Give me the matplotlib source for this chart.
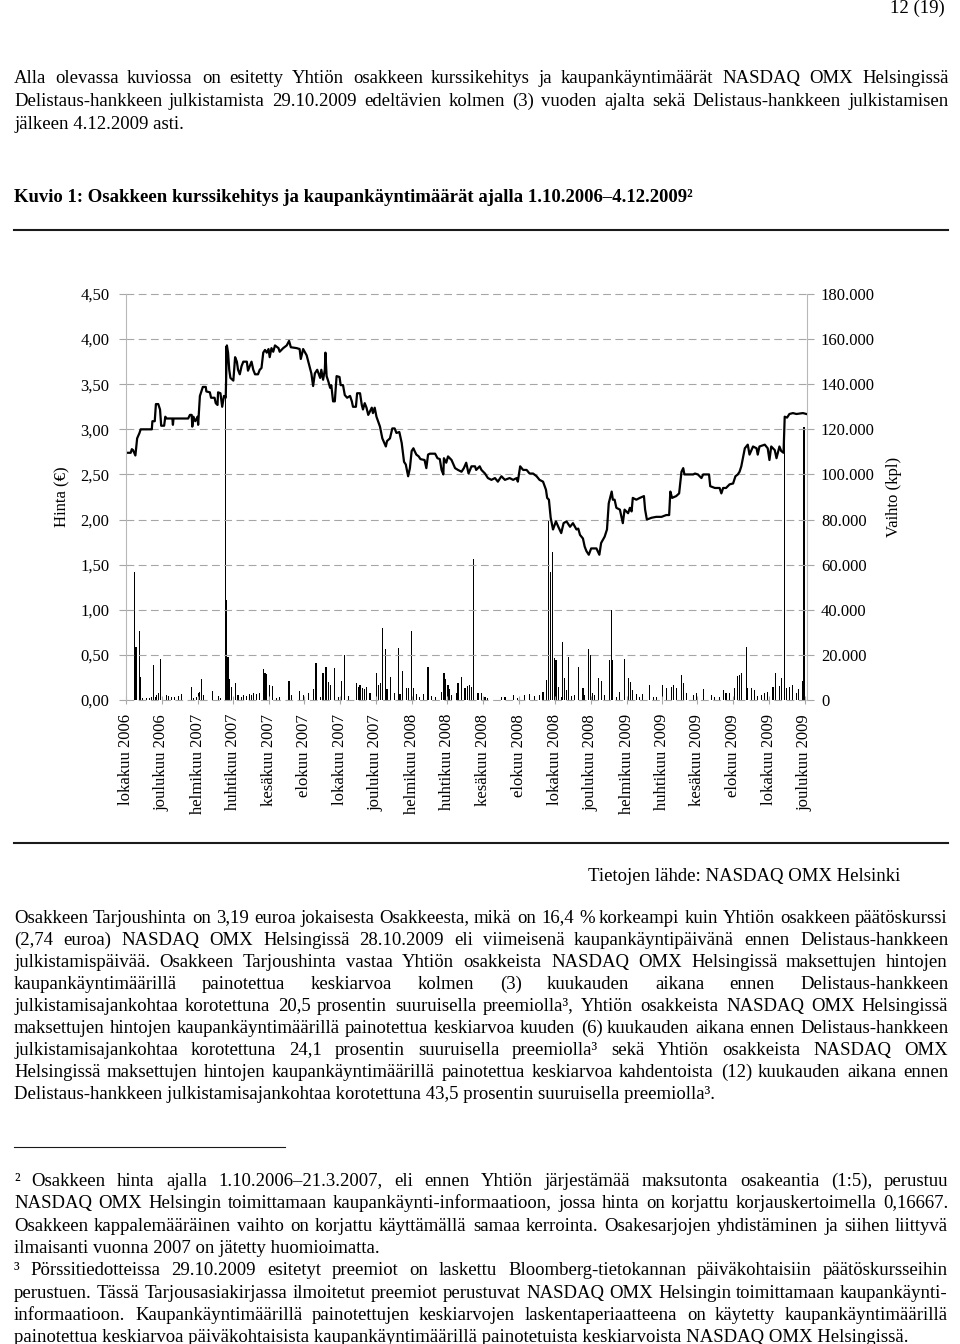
import numpy as np
import matplotlib
matplotlib.use("Agg")
import matplotlib.pyplot as plt
from matplotlib.lines import Line2D

plt.rcParams['font.family'] = ['Liberation Serif', 'DejaVu Serif']

# päivät laskettuna 1.10.2006 alkaen
start = np.datetime64('2006-10-01')

price_day = [0, 8, 10, 12, 16, 19, 23, 25, 44, 45, 49, 51, 55, 58, 60, 65, 67, 69, 79, 80,
             81, 106, 109, 112, 113, 115, 118, 120, 122, 123, 124, 126, 131, 136, 137, 143, 145, 151, 153, 156,
             157, 161, 164, 167, 170, 172, 174, 176, 178, 183, 186, 189, 191, 194, 197, 200, 206, 208, 211, 214,
             217, 220, 225, 228, 231, 234, 237, 240, 243, 245, 248, 251, 254, 260, 262, 268, 274, 278, 281, 291,
             296, 298, 302, 308, 312, 316, 319, 322, 326, 331, 333, 336, 339, 340, 342, 345, 348, 350, 353, 356,
             359, 364, 366, 370, 373, 377, 382, 385, 387, 392, 394, 399, 402, 404, 407, 410, 413, 419, 421, 424,
             427, 433, 437, 443, 445, 450, 454, 458, 461, 466, 470, 474, 477, 481, 484, 487, 490, 492, 495, 499,
             502, 509, 512, 515, 518, 527, 531, 535,
             538, 541, 542, 546, 549, 555, 561, 566, 572, 576, 580, 584, 589, 595, 597, 603, 606, 612, 617, 623,
             629, 634, 640, 646, 654, 660, 666, 668, 672, 677, 683, 688, 694, 700, 705, 711, 716, 718, 721, 724,
             728, 733, 737, 742, 746, 751, 757, 762, 768, 771, 774, 779, 782, 785, 789, 793, 802, 807, 810, 816,
             820, 823, 828, 830, 833, 836, 842, 845, 847, 850, 856, 859, 862, 864, 870, 876, 883, 885, 888, 896,
             904, 913, 921, 926, 928, 931, 938, 943, 947, 950, 952, 967, 970, 975, 981, 984, 994, 996, 1004, 1012,
             1015, 1018, 1023, 1029, 1035, 1039, 1043, 1046, 1049, 1055, 1060, 1063, 1069, 1075, 1077, 1080, 1089, 1094, 1097, 1100,
             1106, 1109, 1114, 1117, 1121, 1123, 1127, 1131, 1137, 1143, 1154, 1160]
price = [2.74, 2.74, 2.78, 2.77, 2.71, 2.90, 2.96, 3.00, 3.00, 3.09, 3.09, 3.28, 3.28, 3.22, 3.04, 3.04, 3.14, 3.12, 3.12, 3.05,
         3.12, 3.12, 3.16, 3.16, 3.03, 3.14, 3.09, 3.11, 3.14, 3.05, 3.16, 3.37, 3.47, 3.47, 3.42, 3.41, 3.35, 3.35, 3.29, 3.27,
         3.41, 3.40, 3.25, 3.37, 3.35, 3.93, 3.85, 3.66, 3.57, 3.54, 3.80, 3.75, 3.66, 3.61, 3.70, 3.75, 3.75, 3.65, 3.70, 3.75,
         3.66, 3.61, 3.61, 3.66, 3.68, 3.85, 3.88, 3.85, 3.89, 3.80, 3.90, 3.86, 3.93, 3.90, 3.86, 3.90, 3.93, 3.98, 3.91, 3.90,
         3.89, 3.78, 3.89, 3.82, 3.72, 3.62, 3.48, 3.62, 3.66, 3.57, 3.66, 3.55, 3.66, 3.85, 3.59, 3.53, 3.46, 3.49, 3.31, 3.31,
         3.59, 3.58, 3.49, 3.49, 3.38, 3.35, 3.37, 3.31, 3.25, 3.25, 3.40, 3.40, 3.27, 3.22, 3.29, 3.24, 3.16, 3.24, 3.18, 3.24,
         3.14, 3.03, 2.90, 2.81, 2.87, 2.90, 3.01, 3.01, 2.96, 2.97, 2.85, 2.64, 2.61, 2.48, 2.57, 2.76, 2.79, 2.76, 2.72, 2.70,
         2.67, 2.66, 2.57, 2.72, 2.73, 2.73, 2.68, 2.67,
         2.55, 2.50, 2.68, 2.63, 2.70, 2.66, 2.57, 2.55, 2.53, 2.57, 2.63, 2.51, 2.59, 2.59, 2.55, 2.59, 2.55, 2.51, 2.46, 2.44,
         2.46, 2.42, 2.48, 2.44, 2.46, 2.44, 2.46, 2.42, 2.59, 2.55, 2.55, 2.51, 2.51, 2.48, 2.44, 2.42, 2.33, 2.24, 2.22, 2.02,
         1.89, 1.98, 1.92, 1.85, 1.96, 1.98, 1.92, 1.96, 1.89, 1.90, 1.83, 1.79, 1.70, 1.65, 1.61, 1.68, 1.68, 1.61, 1.74, 1.81,
         1.89, 2.18, 2.31, 2.22, 2.22, 2.13, 2.11, 2.02, 1.96, 2.11, 2.07, 2.13, 2.09, 2.24, 2.22, 2.24, 2.26, 2.11, 2.00, 2.02,
         2.03, 2.03, 2.05, 2.05, 2.31, 2.24, 2.26, 2.29, 2.53, 2.57, 2.50, 2.50, 2.51, 2.50, 2.46, 2.50, 2.50, 2.37, 2.35, 2.35,
         2.29, 2.35, 2.35, 2.39, 2.40, 2.48, 2.50, 2.53, 2.59, 2.79, 2.83, 2.72, 2.81, 2.79, 2.72, 2.81, 2.83, 2.79, 2.66, 2.81,
         2.77, 2.68, 2.81, 2.76, 2.74, 3.14, 3.13, 3.17, 3.18, 3.17, 3.18, 3.17]

vol_day = [15, 17, 23, 25, 28, 35, 40, 44, 47, 50, 52, 55, 59, 69, 72, 78, 82, 89, 95, 112,
           115, 120, 123, 126, 129, 132, 148, 157, 161, 169, 172, 174, 177, 180, 186, 191, 197, 201, 206, 210,
           214, 218, 223, 227, 234, 237, 240, 245, 250, 257, 262, 278, 282, 296, 302, 311, 319, 324, 331, 336,
           341, 345, 349, 356, 362, 367, 373, 379, 393, 396, 399, 403, 407, 410, 416, 427, 430, 434, 437, 442,
           445, 451, 458, 464, 467, 471, 478, 481, 487, 490, 495, 501, 507, 515, 521, 527,
           538, 542, 545, 549, 552, 555, 563, 566, 572, 578, 582, 586, 589, 592, 600, 606, 612, 617, 640, 646,
           660, 668, 680, 688, 697, 705, 711, 717, 720, 721, 724, 727, 730, 733, 737, 742, 744, 747, 751, 754,
           759, 765, 772, 779, 782, 788, 792, 796, 799, 805, 810, 816, 824, 828, 830, 836, 842, 850, 856, 860,
           864, 870, 876, 881, 892, 899, 904, 914, 921, 930, 933, 938, 947, 950, 955, 967, 972, 984, 998, 1004,
           1012, 1018, 1023, 1029, 1038, 1043, 1046, 1049, 1058, 1060, 1066, 1072, 1077, 1083, 1089, 1094, 1103, 1108, 1114, 1118,
           1123, 1126, 1131, 1136, 1143, 1147, 1153, 1156]
vol = [56900, 23700, 30600, 10000, 700, 1000, 1000, 1500, 15500, 1200, 2200, 3200, 18000, 2200, 1800, 1500, 1500, 1800, 2700, 5900,
       1000, 1200, 3000, 3700, 9200, 2200, 4100, 1800, 700, 157000, 44400, 19200, 9200, 5900, 7700, 2200, 1500, 2200, 1800, 2700,
       2200, 3000, 2700, 3200, 13600, 11800, 11500, 6600, 6200, 1000, 1500, 8600, 2200, 4100, 2200, 3000, 4700, 16600, 1200, 11800,
       14800, 8100, 6600, 14000, 1500, 8600, 20000, 1800, 7400, 5900, 6600, 5200, 4700, 5900, 3000, 11800, 6600, 7400, 31800, 22500,
       4700, 10400, 3200, 22900, 2700, 12900, 5200, 5200, 30600, 5200, 2700, 1200, 2700, 14800, 1800, 1200,
       3700, 12100, 9200, 6600, 4700, 2200, 3000, 7400, 10400, 5200, 6200, 6600, 5900, 62400, 3000, 3200, 1500, 1000, 1500, 1200,
       2200, 1000, 2200, 2700, 1800, 2200, 3700, 8900, 13300, 79600, 56900, 65800, 18500, 17700, 5900, 1500, 25900, 9600, 4500, 19200,
       1800, 2200, 14800, 5200, 2200, 22500, 20000, 3000, 2200, 9600, 8600, 2200, 17700, 39900, 17700, 1200, 3700, 18000, 9600, 8100,
       4500, 2700, 1500, 2700, 6600, 1500, 1200, 6600, 5200, 5900, 6600, 5200, 11100, 7400, 3200, 2200, 3000, 4700, 2200, 1200,
       1500, 4500, 3000, 3200, 5200, 10600, 11100, 12100, 23700, 5500, 5200, 4500, 1800, 2200, 3000, 3700, 5900, 12100, 6200, 9600,
       120000, 5200, 5900, 6600, 3000, 4700, 8600, 121000]

tick_dates = ['2006-10-01', '2006-12-01', '2007-02-01', '2007-04-01', '2007-06-01', '2007-08-01', '2007-10-01',
              '2007-12-01', '2008-02-01', '2008-04-01', '2008-06-01', '2008-08-01', '2008-10-01', '2008-12-01',
              '2009-02-01', '2009-04-01', '2009-06-01', '2009-08-01', '2009-10-01', '2009-12-01']
tick_labels = ['lokakuu 2006', 'joulukuu 2006', 'helmikuu 2007', 'huhtikuu 2007', 'kesäkuu 2007', 'elokuu 2007',
               'lokakuu 2007', 'joulukuu 2007', 'helmikuu 2008', 'huhtikuu 2008', 'kesäkuu 2008', 'elokuu 2008',
               'lokakuu 2008', 'joulukuu 2008', 'helmikuu 2009', 'huhtikuu 2009', 'kesäkuu 2009', 'elokuu 2009',
               'lokakuu 2009', 'joulukuu 2009']
price_ticks = [0, 0.5, 1.0, 1.5, 2.0, 2.5, 3.0, 3.5, 4.0, 4.5]
price_tick_labels = ['0,00', '0,50', '1,00', '1,50', '2,00', '2,50', '3,00', '3,50', '4,00', '4,50']
vol_ticks = [0, 20000, 40000, 60000, 80000, 100000, 120000, 140000, 160000, 180000]
vol_tick_labels = ['0', '20.000', '40.000', '60.000', '80.000', '100.000', '120.000', '140.000', '160.000', '180.000']

W, H = 960, 1344
fig = plt.figure(figsize=(W / 100, H / 100), dpi=100)
renderer = fig.canvas.get_renderer()
BODY = 13.5


def fy(y):
    return 1 - y / H


def line(y, s, justify=True, x0=14, x1=948, **kw):
    # tasattu rivi: jokainen sana omana tekstinään
    kw.setdefault('fontsize', BODY)
    words = s.split(' ')
    if not justify:
        fig.text(x0 / W, fy(y), s, va='baseline', **kw)
        return
    texts = [fig.text(0, fy(y), w, va='baseline', **kw) for w in words]
    widths = [t.get_window_extent(renderer).width for t in texts]
    gap = (x1 - x0 - sum(widths)) / (len(words) - 1)
    x = x0
    for t, w in zip(texts, widths):
        # Agg pyöristää sanan paikan alaosan mukaan; korjataan, jotta perusviiva pysyy samana
        _, h, d = renderer.get_text_width_height_descent(t.get_text(), t.get_fontproperties(), ismath=False)
        err = round(y + d) - int(h) + int(h - d) - y
        t.set_position((round(x) / W, fy(y - err)))
        x += w + gap


def rule(y, x0, x1, lw):
    fig.add_artist(Line2D([x0 / W, x1 / W], [fy(y), fy(y)], color='#1a1a1a', lw=lw))


# sivun tekstit
fig.text(945 / W, fy(13), '12 (19)', ha='right', va='baseline', fontsize=BODY)
line(83, 'Alla olevassa kuviossa on esitetty Yhtiön osakkeen kurssikehitys ja kaupankäyntimäärät NASDAQ OMX Helsingissä')
line(106, 'Delistaus-hankkeen julkistamista 29.10.2009 edeltävien kolmen (3) vuoden ajalta sekä Delistaus-hankkeen julkistamisen')
line(129, 'jälkeen 4.12.2009 asti.', justify=False)
line(202, 'Kuvio 1: Osakkeen kurssikehitys ja kaupankäyntimäärät ajalla 1.10.2006–4.12.2009²', justify=False,
     fontweight='bold')
rule(230, 14, 948, 1.5)
rule(843, 14, 948, 1.5)

fig.text(900 / W, fy(881), 'Tietojen lähde: NASDAQ OMX Helsinki', ha='right', va='baseline', fontsize=BODY)

body = [
    'Osakkeen Tarjoushinta on 3,19 euroa jokaisesta Osakkeesta, mikä on 16,4 % korkeampi kuin Yhtiön osakkeen päätöskurssi',
    '(2,74 euroa) NASDAQ OMX Helsingissä 28.10.2009 eli viimeisenä kaupankäyntipäivänä ennen Delistaus-hankkeen',
    'julkistamispäivää. Osakkeen Tarjoushinta vastaa Yhtiön osakkeista NASDAQ OMX Helsingissä maksettujen hintojen',
    'kaupankäyntimäärillä painotettua keskiarvoa kolmen (3) kuukauden aikana ennen Delistaus-hankkeen',
    'julkistamisajankohtaa korotettuna 20,5 prosentin suuruisella preemiolla³, Yhtiön osakkeista NASDAQ OMX Helsingissä',
    'maksettujen hintojen kaupankäyntimäärillä painotettua keskiarvoa kuuden (6) kuukauden aikana ennen Delistaus-hankkeen',
    'julkistamisajankohtaa korotettuna 24,1 prosentin suuruisella preemiolla³ sekä Yhtiön osakkeista NASDAQ OMX',
    'Helsingissä maksettujen hintojen kaupankäyntimäärillä painotettua keskiarvoa kahdentoista (12) kuukauden aikana ennen',
    'Delistaus-hankkeen julkistamisajankohtaa korotettuna 43,5 prosentin suuruisella preemiolla³.',
]
for i, s in enumerate(body):
    line(923 + i * 22, s, justify=(i < len(body) - 1))

rule(1147, 14, 285, 0.8)
notes = [
    ('² Osakkeen hinta ajalla 1.10.2006–21.3.2007, eli ennen Yhtiön järjestämää maksutonta osakeantia (1:5), perustuu', True),
    ('NASDAQ OMX Helsingin toimittamaan kaupankäynti-informaatioon, jossa hinta on korjattu korjauskertoimella 0,16667.', True),
    ('Osakkeen kappalemääräinen vaihto on korjattu käyttämällä samaa kerrointa. Osakesarjojen yhdistäminen ja siihen liittyvä', True),
    ('ilmaisanti vuonna 2007 on jätetty huomioimatta.', False),
    ('³ Pörssitiedotteissa 29.10.2009 esitetyt preemiot on laskettu Bloomberg-tietokannan päiväkohtaisiin päätöskursseihin', True),
    ('perustuen. Tässä Tarjousasiakirjassa ilmoitetut preemiot perustuvat NASDAQ OMX Helsingin toimittamaan kaupankäynti-', True),
    ('informaatioon. Kaupankäyntimäärillä painotettujen keskiarvojen laskentaperiaatteena on käytetty kaupankäyntimäärillä', True),
    ('painotettua keskiarvoa päiväkohtaisista kaupankäyntimäärillä painotetuista keskiarvoista NASDAQ OMX Helsingissä.', False),
]
for i, (s, j) in enumerate(notes):
    line(round(1186 + i * 22.3), s, justify=j)

# kaavio
ax = fig.add_axes([126 / W, fy(700), 681 / W, 406 / H])
ax2 = ax.twinx()

price_dates = start + np.array(price_day, dtype='timedelta64[D]')
vol_dates = start + np.array(vol_day, dtype='timedelta64[D]')

ax2.bar(vol_dates, vol, width=2, color='black', linewidth=0)
ax.plot(price_dates, price, color='black', lw=1.6)
for t in price_ticks:
    ax.axhline(t, color='#a6a6a6', lw=0.8, ls=(0, (7, 4)), clip_on=False, zorder=0.5)
ax.set_zorder(ax2.get_zorder() + 1)
ax.patch.set_visible(False)

ax.set_xlim(start, start + np.timedelta64(1161, 'D'))
ax.set_ylim(0, 4.5)
ax2.set_ylim(0, 180000)

ax.set_yticks(price_ticks, price_tick_labels, fontsize=12)
ax2.set_yticks(vol_ticks, vol_tick_labels, fontsize=12)
ax.set_xticks(np.array(tick_dates, dtype='datetime64[D]'), tick_labels, rotation=90, fontsize=12)

ax.tick_params(axis='y', direction='out', length=5, color='#a6a6a6', pad=7)
ax.tick_params(axis='x', direction='inout', length=6, color='#a6a6a6', pad=7)
ax2.tick_params(axis='y', direction='out', length=5, color='#a6a6a6', pad=5)

for a in (ax, ax2):
    for side in ('top', 'bottom'):
        a.spines[side].set_visible(False)
ax.spines['right'].set_visible(False)
ax2.spines['left'].set_visible(False)
ax.spines['left'].set_color('#b8b8b8')
ax2.spines['right'].set_color('#b8b8b8')

fig.text(62 / W, fy(497), 'Hinta (€)', rotation=90, ha='center', va='center', fontsize=12)
fig.text(894 / W, fy(497), 'Vaihto (kpl)', rotation=90, ha='center', va='center', fontsize=12)

fig.savefig('out.png', dpi=100)
